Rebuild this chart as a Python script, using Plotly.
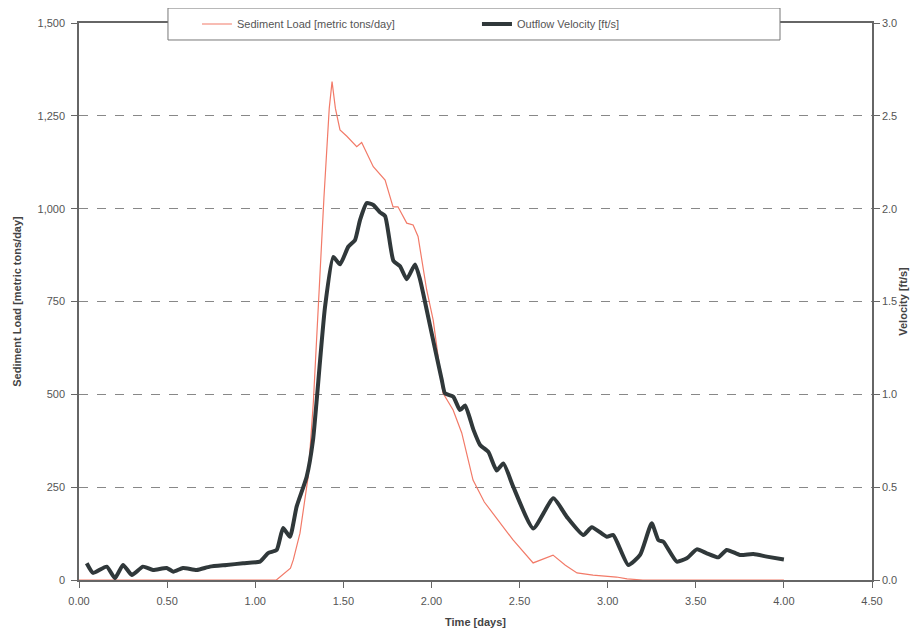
import plotly.graph_objects as go

# Sediment load [metric tons/day]
sed_t = [0.0, 0.5, 1.0, 1.12, 1.2, 1.216, 1.254, 1.30, 1.33, 1.36, 1.39, 1.42, 1.436, 1.455, 1.481,
         1.52, 1.576, 1.604, 1.67, 1.737, 1.782, 1.81, 1.86, 1.896, 1.924, 1.973, 2.01, 2.066,
         2.123, 2.172, 2.236, 2.30, 2.389, 2.463, 2.577, 2.69, 2.76, 2.826, 2.917, 3.05, 3.11,
         3.2, 3.5, 4.0]
sed_v = [0, 0, 0, 0, 32, 54, 126, 277, 480, 760, 1030, 1270, 1342, 1270, 1212,
         1195, 1167, 1178, 1113, 1077, 1005, 1005, 961, 956, 925, 781, 700, 503,
         458, 396, 269, 210, 153, 108, 46, 67, 40, 19, 13, 8, 3,
         0, 0, 0]

# Outflow velocity [ft/s]
vel_t = [0.044, 0.08, 0.157, 0.204, 0.25, 0.30, 0.363, 0.42, 0.498, 0.535, 0.59, 0.668, 0.743,
         0.838, 0.931, 1.027, 1.073, 1.122, 1.158, 1.197, 1.235, 1.292, 1.328, 1.349, 1.396,
         1.443, 1.481, 1.528, 1.566, 1.595, 1.633, 1.670, 1.708, 1.737, 1.784, 1.822, 1.86,
         1.907, 1.935, 1.954, 1.992, 2.058, 2.077, 2.124, 2.162, 2.191, 2.238, 2.276, 2.323,
         2.37, 2.408, 2.465, 2.578, 2.692, 2.768, 2.862, 2.91, 2.995, 3.032, 3.117, 3.184,
         3.25, 3.288, 3.316, 3.392, 3.449, 3.506, 3.562, 3.628, 3.676, 3.751, 3.827, 3.903, 4.0]
vel_v = [0.09, 0.038, 0.072, 0.01, 0.081, 0.027, 0.072, 0.054, 0.065, 0.045, 0.065, 0.054, 0.072,
         0.081, 0.09, 0.099, 0.145, 0.162, 0.28, 0.233, 0.395, 0.556, 0.754, 0.97, 1.47,
         1.74, 1.70, 1.795, 1.83, 1.94, 2.03, 2.02, 1.98, 1.96, 1.72, 1.69, 1.62,
         1.70, 1.62, 1.54, 1.37, 1.08, 1.005, 0.987, 0.915, 0.94, 0.81, 0.727, 0.69,
         0.59, 0.628, 0.50, 0.278, 0.44, 0.34, 0.242, 0.284, 0.233, 0.242, 0.081, 0.135,
         0.305, 0.215, 0.206, 0.099, 0.117, 0.165, 0.144, 0.122, 0.162, 0.135, 0.14, 0.126, 0.11]

x_ticks = [0.0, 0.5, 1.0, 1.5, 2.0, 2.5, 3.0, 3.5, 4.0, 4.5]
y_ticks = [0, 250, 500, 750, 1000, 1250, 1500]
y2_ticks = [0.0, 0.5, 1.0, 1.5, 2.0, 2.5, 3.0]

FONT = "Liberation Sans, Arial, sans-serif"
fig = go.Figure()
fig.add_trace(go.Scatter(x=sed_t, y=sed_v, name="Sediment Load [metric tons/day]",
                         mode="lines", line=dict(color="#f27a68", width=1.2)))
fig.add_trace(go.Scatter(x=vel_t, y=vel_v, name="Outflow Velocity [ft/s]", yaxis="y2",
                         mode="lines", line=dict(color="#30383a", width=4, shape="spline", smoothing=0.5)))

axis_common = dict(showline=True, linecolor="#666", linewidth=1.5, ticks="outside",
                   ticklen=6, tickcolor="#666", tickfont=dict(family=FONT, size=11, color="#555"),
                   zeroline=False, automargin=False)

fig.update_layout(
    width=920, height=633,
    margin=dict(l=71, r=56, t=15, b=61, autoexpand=False),
    paper_bgcolor="white", plot_bgcolor="white",
    font=dict(family=FONT),
    xaxis=dict(range=[0, 4.5], tickvals=x_ticks, tickformat=".2f", mirror=True, showgrid=False,
               ticklabelstandoff=4,
               title=dict(text="<b>Time [days]</b>", font=dict(family=FONT, size=11, color="#444"), standoff=12),
               **axis_common),
    yaxis=dict(range=[0, 1500], tickvals=y_ticks, tickformat=",", showgrid=True,
               gridcolor="#888", gridwidth=1.3, griddash="dash", ticklabelstandoff=4,
               title=dict(text="<b>Sediment Load [metric tons/day]</b>", font=dict(family=FONT, size=11, color="#444"), standoff=14),
               **axis_common),
    yaxis2=dict(range=[0, 3], tickvals=y2_ticks, tickformat=".1f", overlaying="y", side="right",
                showgrid=False,
                title=dict(text="<b>Velocity [ft/s]</b>", font=dict(family=FONT, size=11, color="#444"), standoff=2),
                **axis_common),
    legend=dict(orientation="h", xref="container", yref="container", x=0.2054, xanchor="left",
                y=0.9747, yanchor="middle",
                bgcolor="rgba(0,0,0,0)", borderwidth=0, entrywidth=235, entrywidthmode="pixels",
                font=dict(family=FONT, size=11, color="#555")),
    shapes=[dict(type="rect", xref="paper", yref="paper", x0=0.1122, x1=0.884, y0=0.9695, y1=1.0269,
                 line=dict(color="#777", width=1), fillcolor="white", layer="above")],
)

fig.write_html("out.html")
